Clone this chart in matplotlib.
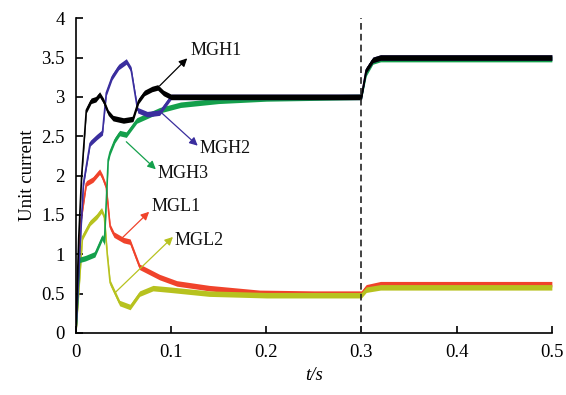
import matplotlib
matplotlib.use("Agg")
import matplotlib.pyplot as plt
import numpy as np

# ---- data (t in s, unit current) ----
mgh1_t = [0.0, 0.003, 0.006, 0.011, 0.016, 0.021, 0.025, 0.029, 0.034, 0.039, 0.050, 0.060, 0.066, 0.072, 0.080, 0.086, 0.092, 0.100, 0.120, 0.200, 0.300, 0.305, 0.312, 0.320, 0.500]
mgh1_y = [0.0, 1.20, 1.98, 2.83, 2.95, 2.97, 3.03, 2.95, 2.80, 2.73, 2.70, 2.72, 2.95, 3.05, 3.10, 3.12, 3.05, 3.00, 3.00, 3.00, 3.00, 3.34, 3.47, 3.50, 3.50]

mgh2_t = [0.0, 0.004, 0.008, 0.015, 0.022, 0.028, 0.032, 0.038, 0.045, 0.053, 0.058, 0.062, 0.065, 0.075, 0.088, 0.100, 0.120, 0.200, 0.300, 0.305, 0.312, 0.320, 0.500]
mgh2_y = [0.0, 1.00, 1.90, 2.41, 2.49, 2.55, 3.05, 3.25, 3.38, 3.45, 3.35, 3.05, 2.83, 2.78, 2.80, 3.00, 3.00, 3.00, 3.00, 3.34, 3.47, 3.50, 3.50]

mgh3_t = [0.0, 0.001, 0.004, 0.010, 0.020, 0.028, 0.030, 0.034, 0.036, 0.041, 0.046, 0.053, 0.064, 0.088, 0.110, 0.150, 0.200, 0.300, 0.305, 0.312, 0.320, 0.500]
mgh3_y = [0.0, 0.17, 0.93, 0.95, 1.00, 1.22, 1.15, 2.20, 2.30, 2.45, 2.54, 2.52, 2.70, 2.83, 2.90, 2.95, 2.98, 3.00, 3.30, 3.45, 3.48, 3.48]

mgl1_t = [0.0, 0.001, 0.005, 0.011, 0.018, 0.025, 0.028, 0.032, 0.036, 0.040, 0.050, 0.057, 0.067, 0.088, 0.106, 0.140, 0.193, 0.250, 0.300, 0.305, 0.320, 0.500]
mgl1_y = [0.0, 0.17, 1.40, 1.90, 1.95, 2.05, 1.98, 1.85, 1.35, 1.25, 1.18, 1.16, 0.84, 0.71, 0.63, 0.57, 0.51, 0.50, 0.50, 0.58, 0.62, 0.62]

mgl2_t = [0.0, 0.001, 0.007, 0.015, 0.022, 0.027, 0.030, 0.033, 0.036, 0.041, 0.046, 0.057, 0.067, 0.081, 0.099, 0.140, 0.200, 0.300, 0.305, 0.320, 0.500]
mgl2_y = [0.0, 0.17, 1.22, 1.40, 1.48, 1.56, 1.47, 1.00, 0.64, 0.51, 0.38, 0.33, 0.50, 0.57, 0.55, 0.50, 0.48, 0.48, 0.55, 0.58, 0.58]

series = [
    ("MGL1", mgl1_t, mgl1_y, "#f0432b"),
    ("MGL2", mgl2_t, mgl2_y, "#b7c21f"),
    ("MGH3", mgh3_t, mgh3_y, "#14a04c"),
    ("MGH2", mgh2_t, mgh2_y, "#3a2e9e"),
    ("MGH1", mgh1_t, mgh1_y, "#000000"),
]

# annotation: label, text position, arrow start (on curve), arrow tip, colour
annotations = [
    ("MGH1", (0.120, 3.59), (0.088, 3.14), (0.117, 3.49), "#000000"),
    ("MGH2", (0.130, 2.35), (0.088, 2.82), (0.128, 2.38), "#3a2e9e"),
    ("MGH3", (0.086, 2.03), (0.053, 2.43), (0.084, 2.08), "#14a04c"),
    ("MGL1", (0.080, 1.61), (0.048, 1.20), (0.077, 1.54), "#f0432b"),
    ("MGL2", (0.104, 1.18), (0.041, 0.51), (0.102, 1.22), "#b7c21f"),
]

plt.rcParams['font.family'] = ['Liberation Serif', 'DejaVu Serif']
fig = plt.figure(figsize=(5.66, 3.95), dpi=100)
ax = fig.add_axes([0.134, 0.157, 0.841, 0.797])

for name, t, y, c in series:
    t = np.asarray(t); y = np.asarray(y)
    ax.fill_between(t, y - 0.035, y + 0.035, color=c, lw=0, zorder=2)
    ax.plot(t, y, color=c, lw=1.2, zorder=2)

ax.axvline(0.3, color="#222222", lw=1.2, ls=(0, (4, 2.5)), zorder=3)

for name, tp, s, e, c in annotations:
    ax.annotate("", xy=e, xytext=s,
                arrowprops=dict(arrowstyle="-|>", color=c, lw=0.9,
                                mutation_scale=12, shrinkA=0, shrinkB=0), zorder=4)
    ax.text(tp[0], tp[1], name, fontsize=13, color="#111111", va="center", ha="left", zorder=5)

ax.set_xlim(0, 0.5)
ax.set_ylim(0, 4)
ax.set_xticks([0, 0.1, 0.2, 0.3, 0.4, 0.5])
ax.set_xticklabels(["0", "0.1", "0.2", "0.3", "0.4", "0.5"])
ax.set_yticks([0, 0.5, 1, 1.5, 2, 2.5, 3, 3.5, 4])
ax.set_yticklabels(["0", "0.5", "1", "1.5", "2", "2.5", "3", "3.5", "4"])
ax.tick_params(direction="in", length=5, width=1.2, labelsize=13.5, pad=8)
for sp in ["top", "right"]:
    ax.spines[sp].set_visible(False)
for sp in ["left", "bottom"]:
    ax.spines[sp].set_linewidth(1.2)
ax.set_ylabel("Unit current", fontsize=13.5)
ax.set_xlabel("t/s", fontsize=13.5, style="italic")

fig.savefig("out.png", dpi=100)
